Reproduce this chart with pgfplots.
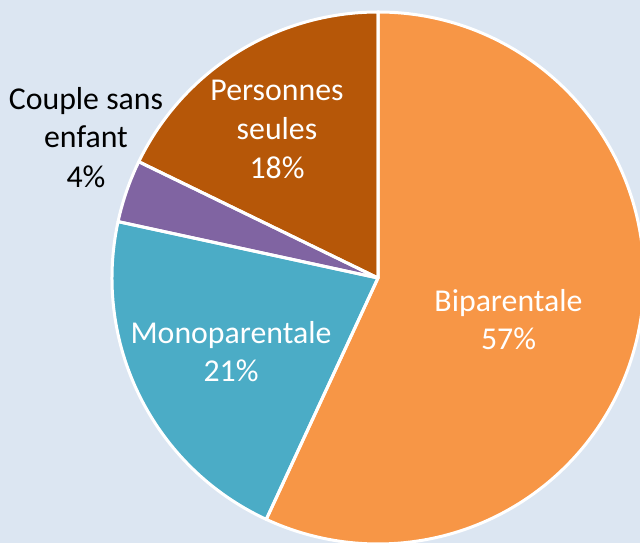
\documentclass[border=0pt]{standalone}
\usepackage{pgfplots}
\usepackage{pgfplotstable}
\pgfplotsset{compat=1.18}
\usepackage{fontspec}
\setmainfont{Carlito}
\definecolor{bg}{HTML}{DCE6F2}
\definecolor{c0}{HTML}{F79646}
\definecolor{c1}{HTML}{4BACC6}
\definecolor{c2}{HTML}{8064A2}
\definecolor{c3}{HTML}{B65708}
\pgfplotstableread{
label value
Biparentale 56.9
Monoparentale 21.5
Couple 3.8
Personnes 17.8
}\piedata
\def\cum{0}
\pgfplotsforeachungrouped \i in {0,1,2,3}{%
  \pgfplotstablegetelem{\i}{value}\of\piedata
  \pgfmathsetmacro\sa{90-3.6*\cum}%
  \pgfmathsetmacro\newcum{\cum+\pgfplotsretval}%
  \pgfmathsetmacro\ea{90-3.6*\newcum}%
  \expandafter\xdef\csname sA\i\endcsname{\sa}%
  \expandafter\xdef\csname eA\i\endcsname{\ea}%
  \xdef\cum{\newcum}%
}
\begin{document}
\begin{tikzpicture}
\begin{axis}[hide axis, scale only axis, width=640pt, height=543pt,
  xmin=0, xmax=640, ymin=0, ymax=543, clip=true]
\fill[bg] (axis cs:0,0) rectangle (axis cs:640,543);
\pgfplotsinvokeforeach{0,1,2,3}{%
  \fill[c#1] (axis cs:378,265) -- ++(\csname sA#1\endcsname:266pt)
    arc[start angle=\csname sA#1\endcsname, end angle=\csname eA#1\endcsname, radius=266pt] -- cycle;
}
\pgfplotsinvokeforeach{0,1,2,3}{%
  \draw[white, line width=3pt, line join=round] (axis cs:378,265) -- ++(\csname sA#1\endcsname:266pt)
    arc[start angle=\csname sA#1\endcsname, end angle=\csname eA#1\endcsname, radius=266pt] -- cycle;
}
\tikzset{lab/.style={anchor=base, inner sep=0pt, font=\fontsize{31.8}{38}\selectfont}}
\node[lab, text=white] at (axis cs:508.5,231.3) {Biparentale};
\node[lab, text=white] at (axis cs:508.5,193) {57\%};
\node[lab, text=white] at (axis cs:231,199.7) {Monoparentale};
\node[lab, text=white] at (axis cs:231,161.3) {21\%};
\node[lab, text=white] at (axis cs:277,442.3) {Personnes};
\node[lab, text=white] at (axis cs:277,403) {seules};
\node[lab, text=white] at (axis cs:277,364.7) {18\%};
\node[lab, text=black] at (axis cs:86,433) {Couple sans};
\node[lab, text=black] at (axis cs:86,395) {enfant};
\node[lab, text=black] at (axis cs:86,355.3) {4\%};
\end{axis}
\end{tikzpicture}
\end{document}
